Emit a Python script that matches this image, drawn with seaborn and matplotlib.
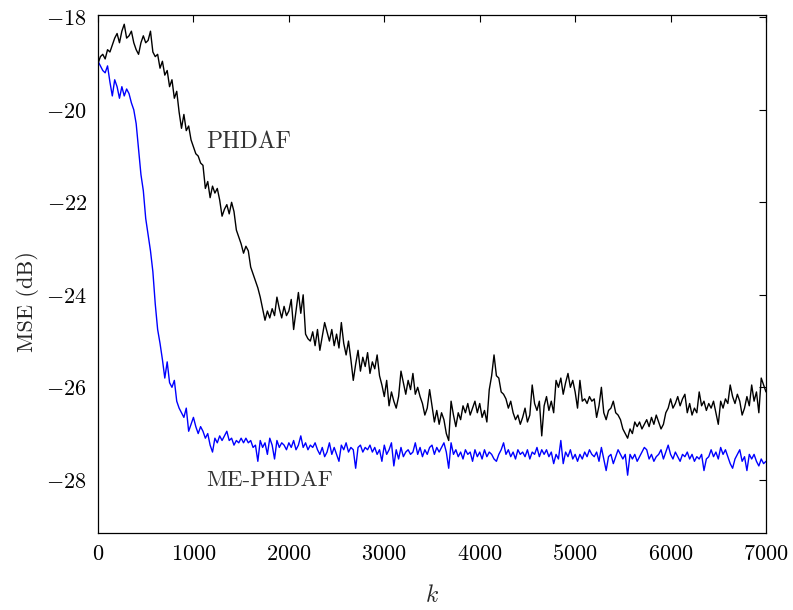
import numpy as np
import pandas as pd
import matplotlib
matplotlib.use("Agg")
import matplotlib.pyplot as plt
import seaborn as sns

# ---- data (k step = 25) ----
k_step = 25
phdaf = [
    -19.00, -18.85, -18.80, -18.90, -18.70, -18.75, -18.60, -18.45, -18.35, -18.55, -18.30, -18.15, -18.45, -18.40, -18.30, -18.55, -18.70, -18.80, -18.55, -18.40,
    -18.55, -18.50, -18.30, -18.75, -18.85, -18.80, -19.10, -18.95, -19.25, -19.15, -19.50, -19.35, -19.75, -19.60, -20.05, -20.40, -20.10, -20.45, -20.35, -20.65,
    -20.80, -20.95, -21.00, -21.15, -21.20, -21.70, -21.55, -21.90, -21.65, -21.80, -21.70, -21.95, -22.30, -22.15, -22.05, -22.25, -22.00, -22.20, -22.60, -22.75,
    -22.90, -23.10, -22.95, -23.05, -23.40, -23.55, -23.70, -23.85, -24.05, -24.30, -24.55, -24.35, -24.50, -24.30, -24.45, -24.05, -24.30, -24.50, -24.25, -24.45,
    -24.35, -24.10, -24.75, -24.35, -23.95, -24.40, -24.00, -24.85, -24.95, -25.00, -24.80, -25.10, -24.75, -25.20, -24.90, -24.60, -24.80, -25.00, -24.75, -25.10,
    -24.85, -25.15, -24.60, -25.05, -25.30, -25.00, -25.40, -25.85, -25.50, -25.20, -25.65, -25.35, -25.55, -25.25, -25.70, -25.45, -25.60, -25.30, -25.75, -25.95,
    -26.20, -25.85, -26.40, -26.10, -26.30, -26.45, -26.20, -25.65, -25.90, -26.15, -25.85, -26.05, -25.70, -26.15, -26.00, -26.20, -26.35, -26.60, -26.45, -26.05,
    -26.40, -26.75, -26.50, -26.80, -26.55, -26.70, -27.00, -27.15, -26.30, -26.60, -26.85, -26.55, -26.70, -26.40, -26.55, -26.35, -26.60, -26.45, -26.30, -26.55,
    -26.35, -26.65, -26.50, -26.75, -26.05, -25.75, -25.30, -25.75, -25.80, -26.10, -26.15, -26.25, -26.45, -26.30, -26.55, -26.70, -26.60, -26.80, -26.65, -26.45,
    -26.75, -26.60, -25.95, -26.35, -26.50, -26.30, -27.05, -26.40, -26.20, -26.50, -26.30, -26.55, -25.85, -26.00, -25.80, -26.15, -25.90, -25.70, -26.00, -25.85,
    -26.10, -26.45, -25.85, -26.30, -26.25, -26.35, -26.20, -26.30, -26.25, -26.65, -26.40, -26.00, -26.55, -26.70, -26.50, -26.45, -26.30, -26.55, -26.60, -26.70,
    -26.90, -27.00, -27.10, -26.90, -27.00, -26.75, -26.85, -26.75, -26.90, -26.80, -26.70, -26.85, -26.65, -26.80, -26.60, -26.75, -26.90, -26.80, -26.55, -26.45,
    -26.25, -26.45, -26.35, -26.20, -26.40, -26.25, -26.15, -26.55, -26.35, -26.60, -26.45, -26.55, -26.10, -26.40, -26.30, -26.50, -26.35, -26.45, -26.30, -26.55,
    -26.80, -26.30, -26.45, -26.25, -26.35, -25.95, -26.20, -26.35, -26.15, -26.30, -26.60, -26.45, -26.20, -26.40, -25.95, -26.30, -26.10, -26.55, -25.80, -25.95,
    -26.10,
]
me_phdaf = [
    -18.95, -19.05, -19.15, -19.20, -19.05, -19.40, -19.70, -19.35, -19.50, -19.75, -19.50, -19.70, -19.55, -19.65, -19.85, -20.00, -20.30, -20.85, -21.40, -21.75,
    -22.35, -22.70, -23.05, -23.50, -24.20, -24.75, -25.05, -25.40, -25.80, -25.45, -25.90, -26.00, -25.85, -26.30, -26.45, -26.55, -26.65, -26.45, -26.95, -26.80,
    -26.65, -26.85, -27.00, -26.85, -26.95, -27.10, -27.00, -27.25, -27.40, -27.10, -27.20, -27.05, -27.15, -27.05, -26.95, -27.15, -27.10, -27.25, -27.15, -27.20,
    -27.10, -27.20, -27.10, -27.20, -27.15, -27.30, -27.25, -27.60, -27.15, -27.30, -27.20, -27.45, -27.10, -27.25, -27.55, -27.15, -27.30, -27.20, -27.25, -27.35,
    -27.20, -27.30, -27.15, -27.35, -27.25, -27.05, -27.30, -27.20, -27.35, -27.25, -27.30, -27.20, -27.35, -27.45, -27.30, -27.50, -27.40, -27.20, -27.45, -27.30,
    -27.45, -27.60, -27.25, -27.35, -27.20, -27.40, -27.30, -27.35, -27.75, -27.30, -27.25, -27.40, -27.30, -27.35, -27.25, -27.40, -27.30, -27.45, -27.35, -27.60,
    -27.25, -27.45, -27.35, -27.20, -27.70, -27.35, -27.55, -27.30, -27.50, -27.40, -27.35, -27.45, -27.40, -27.20, -27.45, -27.30, -27.50, -27.35, -27.45, -27.30,
    -27.25, -27.45, -27.30, -27.40, -27.30, -27.20, -27.40, -27.75, -27.20, -27.45, -27.35, -27.50, -27.40, -27.55, -27.35, -27.45, -27.40, -27.60, -27.35, -27.50,
    -27.40, -27.55, -27.35, -27.50, -27.40, -27.45, -27.55, -27.60, -27.45, -27.35, -27.20, -27.45, -27.35, -27.50, -27.40, -27.55, -27.35, -27.45, -27.40, -27.50,
    -27.35, -27.55, -27.40, -27.45, -27.30, -27.50, -27.35, -27.45, -27.35, -27.50, -27.40, -27.65, -27.45, -27.55, -27.15, -27.65, -27.40, -27.50, -27.35, -27.55,
    -27.45, -27.60, -27.45, -27.55, -27.40, -27.50, -27.35, -27.45, -27.50, -27.40, -27.60, -27.30, -27.55, -27.80, -27.50, -27.45, -27.65, -27.50, -27.35, -27.45,
    -27.55, -27.45, -27.90, -27.45, -27.55, -27.45, -27.60, -27.50, -27.40, -27.30, -27.35, -27.55, -27.45, -27.60, -27.50, -27.45, -27.35, -27.55, -27.40, -27.25,
    -27.45, -27.55, -27.40, -27.50, -27.60, -27.45, -27.50, -27.40, -27.55, -27.45, -27.60, -27.50, -27.55, -27.45, -27.80, -27.55, -27.50, -27.35, -27.50, -27.40,
    -27.55, -27.30, -27.45, -27.35, -27.50, -27.65, -27.75, -27.55, -27.45, -27.35, -27.60, -27.50, -27.80, -27.45, -27.55, -27.45, -27.60, -27.70, -27.55, -27.65,
    -27.60,
]
series_names = ["PHDAF", "ME-PHDAF"]
x_ticks = [0, 1000, 2000, 3000, 4000, 5000, 6000, 7000]
y_ticks = [-28, -26, -24, -22, -20, -18]

k1 = np.arange(len(phdaf)) * k_step
k2 = np.arange(len(me_phdaf)) * k_step
df = pd.concat([
    pd.DataFrame({"k": k1, "mse": phdaf, "alg": series_names[0]}),
    pd.DataFrame({"k": k2, "mse": me_phdaf, "alg": series_names[1]}),
])

sns.set_theme(style="white")
plt.rcParams.update({
    "font.family": ["cmr10", "DejaVu Serif"],
    "mathtext.fontset": "cm",
    "axes.formatter.use_mathtext": True,
    "axes.unicode_minus": True,
    "axes.edgecolor": "black",
    "axes.linewidth": 0.9,
})

fig = plt.figure(figsize=(7.93, 6.10), dpi=100)
ax = fig.add_axes([98 / 793, 1 - 533 / 610, (766 - 98) / 793, (533 - 15) / 610])

sns.lineplot(data=df, x="k", y="mse", hue="alg",
             palette={"PHDAF": "black", "ME-PHDAF": "#0000ff"},
             linewidth=1.0, legend=False, ax=ax, estimator=None)

ax.set_xlim(0, 7000)
ax.set_ylim(-29.15, -17.95)
ax.set_xticks(x_ticks)
ax.set_yticks(y_ticks)
ax.tick_params(direction="in", top=True, right=True, length=5, width=0.8,
               labelsize=16, colors="black", pad=8)
for s in ax.spines.values():
    s.set_visible(True)
    s.set_color("black")

ax.set_xlabel(r"$k$", fontsize=17, labelpad=15)
ax.set_ylabel("MSE (dB)", fontsize=16)
ax.yaxis.set_label_coords(-0.088, 0.446)

ax.text(1130, -20.7, "PHDAF", fontsize=17, color="#333333", va="center", ha="left")
ax.text(1130, -28.0, "ME-PHDAF", fontsize=16.5, color="#333333", va="center", ha="left")

fig.savefig("out.png", dpi=100)
